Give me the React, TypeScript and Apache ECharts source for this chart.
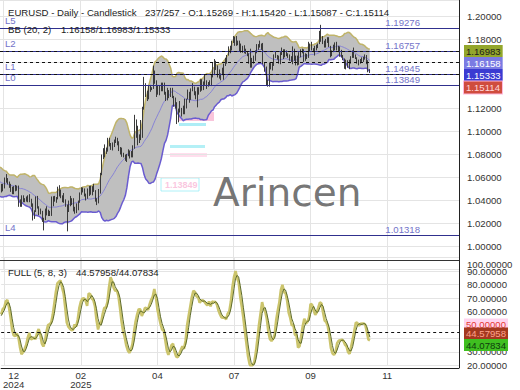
import React, { useEffect, useRef } from "react";
import * as echarts from "echarts";

const FONT = '"Liberation Sans", Arial, sans-serif';

// ---- price data (daily EURUSD) ----
const priorCloses = [1.0640,1.0655,1.0632,1.0610,1.0655,1.0623,1.0563,1.0529,1.0541,1.0597,1.0596,1.0544,1.0471,1.0417,1.0496,1.0488,1.0566,1.0552,1.0577];
const priorHighs = [1.0680,1.0690,1.0670,1.0650,1.0680,1.0660,1.0630,1.0570,1.0570,1.0610,1.0630,1.0610,1.0545,1.0495,1.0540,1.0515,1.0570,1.0575,1.0595];
const priorLows = [1.0600,1.0620,1.0610,1.0590,1.0620,1.0600,1.0550,1.0497,1.0510,1.0525,1.0525,1.0530,1.0460,1.0335,1.0425,1.0430,1.0470,1.0535,1.0545];

const closes = [
  1.0497,1.0511,1.0512,1.0587,1.0567,1.0555,1.0529,1.0497,1.0470,1.0502,1.0514,1.0518,1.0352,1.0364,1.0429,1.0407,1.0405,1.0422,1.0427,1.0407,1.0353,
  1.0266,1.0306,1.0387,1.0344,1.0320,1.0300,1.0243,1.0244,1.0308,1.0292,1.0300,1.0271,1.0418,1.0432,1.0409,1.0415,1.0496,1.0493,1.0431,1.0422,1.0391,1.0362,
  1.0343,1.0378,1.0404,1.0382,1.0330,1.0308,1.0361,1.0389,1.0465,1.0493,1.0483,1.0447,1.0424,1.0502,1.0458,1.0466,1.0514,1.0486,1.0398,1.0375,
  1.0485,1.0626,1.0790,1.0785,1.0834,1.0834,1.0919,1.0888,1.0851,1.0880,1.0922,1.0944,1.0902,1.0852,1.0816,1.0801,1.0790,1.0752,1.0800,1.0829,1.0816,
  1.0792,1.0852,1.1050,1.0961,1.0907,1.0956,1.0955,1.1196,1.1357,1.1350,1.1285,1.1399,1.1366,1.1370,1.1512,1.1424,1.1312,1.1390,1.1365,1.1421,1.1383,1.1328,
  1.1293,1.1299,1.1315,1.1368,1.1302,1.1223,1.1252,1.1088,1.1185,1.1175,1.1186,1.1163,1.1243,1.1283,1.1329,1.1281,1.1363,1.1384,1.1326,1.1289,1.1370,1.1346,
  1.1443,1.1370,1.1421,1.1444,1.1397,1.1421,1.1423,1.1486,1.1584,1.1549,1.1563,1.1478,1.1479,1.1496,1.1523,1.1578,1.1610,1.1664,1.1700,1.1718,1.1787,
  1.1799,1.1800,1.1755,1.1779,1.1716,1.1726,1.1719,1.1700,1.1689,1.1664,1.1598,1.1640,1.1596,1.1626,1.1693,1.1752,1.1754,1.1740,1.1742,1.1589,1.1546,1.1403,1.1416,
  1.1587,1.1571,1.1574,1.1661,1.1665,1.1642,1.1614,1.1676,1.1705,1.1647,1.1702,1.1663,1.1646,1.1650,1.1609,1.1718,1.1621,1.1641,1.1587,1.1680,1.1685,
  1.1711,1.1644,1.1659,1.1645,1.1718,1.1761,1.1709,1.1696,1.1734,1.1735,1.1762,1.1799,1.1815,1.1784,1.1744,1.1799,1.1815,1.1737,1.1665,1.1702,1.1730,1.1735,
  1.1730,1.1716,1.1711,1.1658,1.1628,1.1565,1.1617,1.1568,1.1606,1.1647,1.1689,1.1655,1.1643,1.1599,1.1609,1.1619,1.1627,1.1645,1.1653,1.1601,1.15269,1.15114,
];
const highs = [
  1.0590,1.0545,1.0545,1.0600,1.0630,1.0595,1.0565,1.0545,1.0520,1.0525,1.0535,1.0530,1.0530,1.0410,1.0445,1.0445,1.0420,1.0435,1.0445,1.0455,1.0415,
  1.0375,1.0315,1.0436,1.0440,1.0350,1.0330,1.0310,1.0250,1.0330,1.0350,1.0320,1.0310,1.0435,1.0437,1.0440,1.0430,1.0520,1.0533,1.0495,1.0445,1.0465,1.0410,
  1.0365,1.0400,1.0440,1.0420,1.0420,1.0345,1.0375,1.0400,1.0470,1.0515,1.0513,1.0505,1.0460,1.0505,1.0528,1.0530,1.0525,1.0545,1.0490,1.0420,
  1.0500,1.0640,1.0800,1.0855,1.0888,1.0860,1.0945,1.0945,1.0900,1.0905,1.0930,1.0955,1.0945,1.0915,1.0865,1.0860,1.0815,1.0800,1.0805,1.0845,1.0835,
  1.0830,1.0880,1.1145,1.1105,1.1050,1.0975,1.1100,1.1215,1.1475,1.1420,1.1355,1.1405,1.1405,1.1385,1.1573,1.1530,1.1445,1.1405,1.1400,1.1425,1.1425,1.1425,
  1.1345,1.1380,1.1360,1.1380,1.1380,1.1310,1.1295,1.1255,1.1200,1.1265,1.1205,1.1225,1.1285,1.1285,1.1365,1.1345,1.1375,1.1420,1.1390,1.1350,1.1385,1.1385,
  1.1455,1.1455,1.1435,1.1495,1.1445,1.1430,1.1445,1.1495,1.1600,1.1630,1.1615,1.1575,1.1540,1.1505,1.1555,1.1590,1.1640,1.1665,1.1740,1.1745,1.1790,
  1.1830,1.1825,1.1830,1.1790,1.1790,1.1765,1.1745,1.1750,1.1720,1.1700,1.1680,1.1720,1.1640,1.1660,1.1705,1.1760,1.1760,1.1790,1.1765,1.1770,1.1600,1.1565,1.1450,
  1.1600,1.1595,1.1595,1.1670,1.1700,1.1665,1.1660,1.1690,1.1730,1.1715,1.1715,1.1705,1.1680,1.1670,1.1655,1.1740,1.1720,1.1660,1.1660,1.1690,1.1715,
  1.1720,1.1715,1.1680,1.1675,1.1780,1.1765,1.1780,1.1725,1.1745,1.1755,1.1765,1.1875,1.19276,1.1830,1.1790,1.1805,1.1820,1.1820,1.1745,1.1705,1.1755,1.1775,
  1.1780,1.1745,1.1740,1.1710,1.1665,1.1635,1.1625,1.1620,1.1625,1.1655,1.1705,1.1730,1.1670,1.1645,1.1625,1.1630,1.1645,1.1650,1.1670,1.1665,1.1620,1.15420,
];
const lows = [
  1.0460,1.0470,1.0480,1.0505,1.0555,1.0540,1.0510,1.0475,1.0455,1.0455,1.0480,1.0485,1.0345,1.0345,1.0345,1.0385,1.0385,1.0390,1.0385,1.0385,1.0345,
  1.0226,1.0240,1.0300,1.0330,1.0272,1.0280,1.0214,1.0140,1.0230,1.0270,1.0265,1.0265,1.0266,1.0350,1.0390,1.0380,1.0410,1.0435,1.0420,1.0385,1.0380,1.0345,
  1.01318,1.0300,1.0350,1.0360,1.0305,1.0285,1.0290,1.0315,1.0380,1.0450,1.0470,1.0435,1.0400,1.0415,1.0440,1.0450,1.0445,1.0475,1.0390,1.0360,
  1.0375,1.0460,1.0620,1.0760,1.0775,1.0805,1.0825,1.0870,1.0840,1.0835,1.0865,1.0900,1.0880,1.0830,1.0800,1.0780,1.0775,1.0745,1.0735,1.0785,1.0765,
  1.0775,1.0775,1.0850,1.0945,1.0880,1.0900,1.0925,1.0945,1.1190,1.1300,1.1265,1.1280,1.1345,1.1360,1.1370,1.1415,1.1300,1.1320,1.1315,1.1350,1.1350,1.1320,
  1.1265,1.1270,1.1290,1.1300,1.1290,1.1215,1.1200,1.1065,1.1080,1.1165,1.1130,1.1150,1.1150,1.1200,1.1280,1.1250,1.1275,1.1350,1.1315,1.1280,1.1210,1.1320,
  1.1345,1.1355,1.1360,1.1405,1.1370,1.1390,1.1400,1.1395,1.1470,1.1490,1.1535,1.1470,1.1460,1.1445,1.1490,1.1450,1.1570,1.1590,1.1660,1.1680,1.1705,
  1.1770,1.1745,1.1745,1.1750,1.1700,1.1685,1.1685,1.1680,1.1675,1.1655,1.1590,1.1555,1.1555,1.1590,1.1615,1.1680,1.1710,1.1730,1.1710,1.1585,1.1520,1.1400,1.1390,
  1.1390,1.1540,1.1530,1.1570,1.1640,1.1625,1.1590,1.1585,1.1665,1.1630,1.1645,1.1655,1.1640,1.1615,1.1605,1.1585,1.1615,1.1575,1.1575,1.1580,1.1645,
  1.1680,1.1605,1.1615,1.1630,1.1640,1.1700,1.1705,1.1690,1.1660,1.1705,1.1725,1.1760,1.1780,1.1760,1.1730,1.1730,1.1770,1.1735,1.1645,1.1655,1.1690,1.1705,
  1.1705,1.1690,1.1650,1.1645,1.1620,1.1545,1.1540,1.1555,1.1542,1.1590,1.1640,1.1640,1.1630,1.1590,1.1575,1.1590,1.1605,1.1605,1.1625,1.1585,1.1515,1.15087,
];

// ---- levels, reference lines and readouts ----
const levelValues = [1.19276, 1.16757, 1.14945, 1.13849, 1.01318];
const levelNames = ["L5", "L2", "L1", "L0", "L4"];
const refLineValues = [1.16983, 1.16158, 1.15333, 1.15114];
const lastOHLC = [1.15269, 1.1542, 1.15087, 1.15114];
const bbReadout = [1.16158, 1.16983, 1.15333];
const stochReadout = [44.57958, 44.07834];
const stochMid = 50;
const barCountText = "237/257";

// ---- axes ----
const PRICE_MIN = 0.98;
const PRICE_MAX = 1.21435;
const PRICE_STEP = 0.02;
const hiddenPriceLabels = [0.98, 1.14, 1.16];
const hiddenOscLabels = [40, 50, 100];
const TOTAL_SLOTS = 294;
const xTickLabels = ["12\n2024", "02\n2025", "04", "07", "09", "11"];
const xTickLabelSlots = [8, 51, 100, 149, 198, 247];
const xGridSlots = [2, 51, 100, 149, 198, 247];

function buildOption() {
  const P = priorCloses.length;
  const allC = [...priorCloses, ...closes];
  const allH = [...priorHighs, ...highs];
  const allL = [...priorLows, ...lows];
  const opens = closes.map((_, i) => allC[P + i - 1]);
  const candles = closes.map((c, i) => [opens[i], c, lows[i], highs[i]]);

  const bbU: number[] = [], bbM: number[] = [], bbLo: number[] = [], bbW: number[] = [];
  for (let i = 0; i < closes.length; i++) {
    const j = P + i;
    const win = allC.slice(j - 19, j + 1);
    const m = win.reduce((a, b) => a + b, 0) / win.length;
    const sd = Math.sqrt(win.reduce((a, b) => a + (b - m) * (b - m), 0) / win.length);
    bbM.push(m);
    bbU.push(m + 2 * sd);
    bbLo.push(m - 2 * sd);
    bbW.push(4 * sd);
  }

  const fastK: (number | null)[] = allC.map((c, j) => {
    if (j < 4) return null;
    const hh = Math.max(...allH.slice(j - 4, j + 1));
    const ll = Math.min(...allL.slice(j - 4, j + 1));
    return hh === ll ? 50 : ((c - ll) / (hh - ll)) * 100;
  });
  const fullK: (number | null)[] = fastK.map((_, j) => {
    if (j < 11) return null;
    const w = fastK.slice(j - 7, j + 1) as number[];
    return w.reduce((a, b) => a + b, 0) / 8;
  });
  const fullD: (number | null)[] = fullK.map((_, j) => {
    if (j < 13) return null;
    const w = fullK.slice(j - 2, j + 1) as number[];
    return w.reduce((a, b) => a + b, 0) / 3;
  });
  const kData = fullK.slice(P);
  const dData = fullD.slice(P);

  const cats = Array.from({ length: TOTAL_SLOTS }, (_, i) => String(i));
  const gridSet = new Set(xGridSlots);
  const labelMap = new Map<number, string>();
  xTickLabelSlots.forEach((s, k) => labelMap.set(s, xTickLabels[k]));

  const levelLines: any[] = [];
  levelValues.forEach((v, k) => {
    levelLines.push({
      yAxis: v,
      lineStyle: { color: "#30308e", width: 1.2, type: "solid" },
      label: { show: true, position: "insideStartTop", distance: [5, 3], formatter: levelNames[k], color: "#7373c9", fontSize: 9.6, fontFamily: FONT },
    });
    levelLines.push({
      yAxis: v,
      lineStyle: { color: "rgba(0,0,0,0)", width: 0 },
      label: { show: true, position: "insideEndTop", distance: [39, 1], formatter: v.toFixed(5), color: "#7373c9", fontSize: 9.6, fontFamily: FONT },
    });
  });
  refLineValues.forEach((v) => {
    levelLines.push({ yAxis: v, lineStyle: { color: "#111", width: 1, type: [3, 3] }, label: { show: false } });
  });

  const axisText = { color: "#333", fontSize: 9.6, fontFamily: FONT };
  const gridLine = { show: true, lineStyle: { color: "#e4e4e4", width: 1 } };
  const isHidden = (v: number, list: number[]) => list.some((h) => Math.abs(h - v) < 1e-6);

  const txt = (x: number, y: number, text: string, fill = "#222", extra: any = {}) => ({
    type: "text",
    x,
    y,
    z: 100,
    silent: true,
    style: { text, fill, fontSize: 9.6, fontFamily: FONT, verticalAlign: "middle", ...extra },
  });
  const box = (y: number, text: string, bg: string, fg: string, border?: string) => ({
    type: "text",
    x: 464,
    y,
    z: 110,
    silent: true,
    style: {
      text,
      fill: fg,
      fontSize: 9.6,
      fontFamily: FONT,
      verticalAlign: "middle",
      backgroundColor: bg,
      padding: [1, 2, 1, 2],
      borderColor: border,
      borderWidth: border ? 1 : 0,
    },
  });

  const graphic: any[] = [
    // faint ghost marks seen in the picture
    { type: "rect", z: 0, silent: true, shape: { x: 178, y: 112, width: 36, height: 9 }, style: { fill: "rgba(244,150,190,0.55)" } },
    { type: "rect", z: 0, silent: true, shape: { x: 186, y: 92, width: 32, height: 3 }, style: { fill: "rgba(244,170,205,0.45)" } },
    { type: "rect", z: 0, silent: true, shape: { x: 179, y: 123, width: 27, height: 3 }, style: { fill: "rgba(120,225,240,0.6)" } },
    { type: "rect", z: 0, silent: true, shape: { x: 170, y: 145, width: 35, height: 3 }, style: { fill: "rgba(130,230,240,0.6)" } },
    { type: "rect", z: 0, silent: true, shape: { x: 170, y: 153, width: 37, height: 4 }, style: { fill: "rgba(255,190,220,0.5)" } },
    { type: "rect", z: 0, silent: true, shape: { x: 161, y: 178, width: 38, height: 13 }, style: { fill: "rgba(255,255,255,0)", stroke: "rgba(140,235,245,0.7)", lineWidth: 1 } },
    { type: "text", z: 0, silent: true, x: 165, y: 184.5, style: { text: "1.13849", fill: "rgba(245,140,190,0.5)", fontSize: 9, fontFamily: FONT, verticalAlign: "middle", fontWeight: "bold" } },
    // panel separator and right border
    { type: "line", z: 90, silent: true, shape: { x1: 0, y1: 260.5, x2: 459, y2: 260.5 }, style: { stroke: "#333", lineWidth: 1 } },
    { type: "line", z: 90, silent: true, shape: { x1: 459.5, y1: 0, x2: 459.5, y2: 368 }, style: { stroke: "#222", lineWidth: 1 } },
    // watermark
    { type: "text", z: 95, silent: true, x: 213, y: 192, style: { text: "Arincen", fill: "rgba(100,100,100,0.9)", fontSize: 39, fontFamily: '"DejaVu Sans", sans-serif', verticalAlign: "middle" } },
    // titles
    txt(8, 12.7, "EURUSD - Daily - Candlestick"),
    txt(145, 12.7, `${barCountText} - O:${lastOHLC[0].toFixed(5)} - H:${lastOHLC[1].toFixed(5)} - L:${lastOHLC[2].toFixed(5)} - C:${lastOHLC[3].toFixed(5)}`),
    txt(8, 29.3, "BB (20, 2)"),
    txt(61, 29.3, bbReadout.map((v) => v.toFixed(5)).join("/")),
    txt(8, 272.3, "FULL (5, 8, 3)"),
    txt(76, 272.3, stochReadout.map((v) => v.toFixed(5)).join("/")),
    txt(467, 264, "100.00000", "#333"),
    // right readout boxes
    box(51, refLineValues[0].toFixed(5), "#93a62b", "#1b1b1b"),
    box(63, refLineValues[1].toFixed(5), "#7b7be3", "#ffffff"),
    box(75, refLineValues[2].toFixed(5), "#3b3bd2", "#ffffff"),
    box(87.5, refLineValues[3].toFixed(5), "#cf4c3e", "#ffd7d7", "#ffb8dc"),
    box(324.5, stochMid.toFixed(5), "#ffd3ee", "#e53a2e"),
    box(333.5, stochReadout[0].toFixed(5), "#a4381f", "#ffa28c"),
    box(345, stochReadout[1].toFixed(5), "#3fbf20", "#0e3a0e"),
  ];

  return {
    animation: false,
    backgroundColor: "#ffffff",
    textStyle: { fontFamily: FONT },
    grid: [
      { left: 0, width: 459, top: 0, height: (PRICE_MAX - PRICE_MIN) * 1150 },
      { left: 0, width: 459, top: 257.7, height: 107.6 },
    ],
    xAxis: [
      {
        type: "category", gridIndex: 0, data: cats, boundaryGap: false,
        axisLine: { show: false }, axisTick: { show: false }, axisLabel: { show: false },
        splitLine: { ...gridLine, interval: (i: number) => gridSet.has(i) },
      },
      {
        type: "category", gridIndex: 1, data: cats, boundaryGap: false, offset: 2.7,
        axisLine: { show: true, lineStyle: { color: "#222", width: 1 } },
        axisTick: { show: false },
        axisLabel: {
          ...axisText, margin: 3, lineHeight: 9, interval: (i: number) => labelMap.has(i),
          formatter: (_v: string, i: number) => labelMap.get(i) ?? "",
        },
        splitLine: { ...gridLine, interval: (i: number) => gridSet.has(i) },
      },
    ],
    yAxis: [
      {
        type: "value", gridIndex: 0, position: "right", min: PRICE_MIN, max: PRICE_MAX, interval: PRICE_STEP,
        axisLine: { show: true, lineStyle: { color: "#222" } }, axisTick: { show: false },
        axisLabel: {
          ...axisText, margin: 8, showMaxLabel: false,
          formatter: (v: number) => {
            const onStep = Math.abs(v / PRICE_STEP - Math.round(v / PRICE_STEP)) < 1e-6;
            return !onStep || isHidden(v, hiddenPriceLabels) ? "" : v.toFixed(5);
          },
        },
        splitLine: gridLine,
      },
      {
        type: "value", gridIndex: 1, position: "right", min: 20, max: 100, interval: 10,
        axisLine: { show: true, lineStyle: { color: "#222" } }, axisTick: { show: false },
        axisLabel: { ...axisText, margin: 8, formatter: (v: number) => (isHidden(v, hiddenOscLabels) ? "" : v.toFixed(5)) },
        splitLine: gridLine,
      },
    ],
    series: [
      { type: "line", xAxisIndex: 0, yAxisIndex: 0, data: bbLo, stack: "bb", symbol: "none", silent: true, lineStyle: { opacity: 0 }, z: 1 },
      { type: "line", xAxisIndex: 0, yAxisIndex: 0, data: bbW, stack: "bb", symbol: "none", silent: true, lineStyle: { opacity: 0 }, areaStyle: { color: "#bfbfbf", opacity: 1 }, z: 1 },
      { type: "line", xAxisIndex: 0, yAxisIndex: 0, data: bbU, symbol: "none", silent: true, lineStyle: { color: "#c0b46a", width: 1.5 }, z: 2 },
      { type: "line", xAxisIndex: 0, yAxisIndex: 0, data: bbLo, symbol: "none", silent: true, lineStyle: { color: "#6a5cd0", width: 1.5 }, z: 2 },
      { type: "line", xAxisIndex: 0, yAxisIndex: 0, data: bbM, symbol: "none", silent: true, lineStyle: { color: "#8884d6", width: 1 }, z: 2 },
      {
        type: "candlestick", xAxisIndex: 0, yAxisIndex: 0, data: candles, barWidth: 1.2, z: 3, silent: true,
        itemStyle: { color: "#3a3a3a", color0: "#3a3a3a", borderColor: "#3a3a3a", borderColor0: "#3a3a3a", borderWidth: 1 },
        markLine: { silent: true, symbol: ["none", "none"], z: 5, data: levelLines },
      },
      {
        type: "line", xAxisIndex: 1, yAxisIndex: 1, data: kData, symbol: "none", silent: true, z: 3,
        lineStyle: { color: "#cbc46c", width: 2.6 },
        markLine: {
          silent: true, symbol: ["none", "none"], z: 5,
          data: [{ yAxis: stochReadout[0], lineStyle: { color: "#111", width: 1.2, type: [3, 3] }, label: { show: false } }],
        },
      },
      { type: "line", xAxisIndex: 1, yAxisIndex: 1, data: dData, symbol: "none", silent: true, z: 4, lineStyle: { color: "#5d6b2a", width: 1 } },
    ],
    graphic,
  };
}

export default function App() {
  const ref = useRef<HTMLDivElement>(null);
  useEffect(() => {
    if (!ref.current) return;
    const chart = echarts.init(ref.current, null, { renderer: "svg" });
    chart.setOption(buildOption() as any);
    return () => chart.dispose();
  }, []);
  return <div ref={ref} style={{ position: "absolute", left: 0, top: 0, width: 520, height: 390 }} />;
}
